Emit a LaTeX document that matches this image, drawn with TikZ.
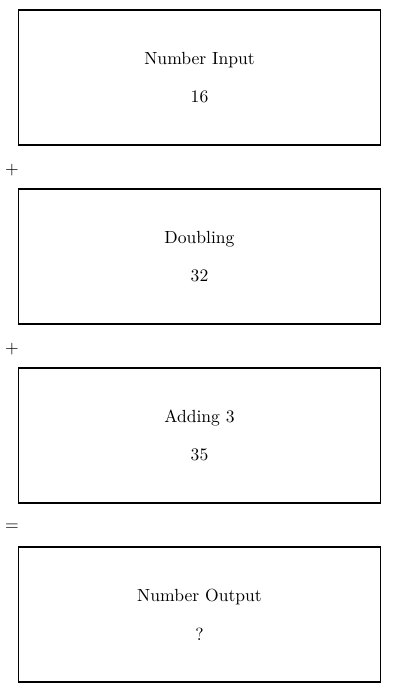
\documentclass[tikz,border=0pt]{standalone}
\usetikzlibrary{positioning}

\begin{document}
\begin{tikzpicture}[x=0.02cm,y=-0.02cm]

		\tikzset{StageStyle/.style =
				{draw=black, line width=0.6pt, minimum width=7.26cm, minimum height=2.7cm,
				 inner sep=0pt, align=center}
		}
		\tikzset{SignStyle/.style =
				{inner sep=0pt}
		}

		\useasboundingbox (0,0) rectangle (400,693);

		%stages
		\node[StageStyle] (input)  at (199.5,77.5)  {Number Input\\[10pt]16};
		\node[StageStyle] (double) at (199.5,256.5) {Doubling\\[10pt]32};
		\node[StageStyle] (add)    at (199.5,435.5) {Adding 3\\[10pt]35};
		\node[StageStyle] (output) at (199.5,614.5) {Number Output\\[10pt]?};

		%signs
		\node[SignStyle] (plusA)  at (12,170) {+};
		\node[SignStyle] (plusB)  at (12,349) {+};
		\node[SignStyle] (equals) at (12,527) {=};
	\end{tikzpicture}
\end{document}
